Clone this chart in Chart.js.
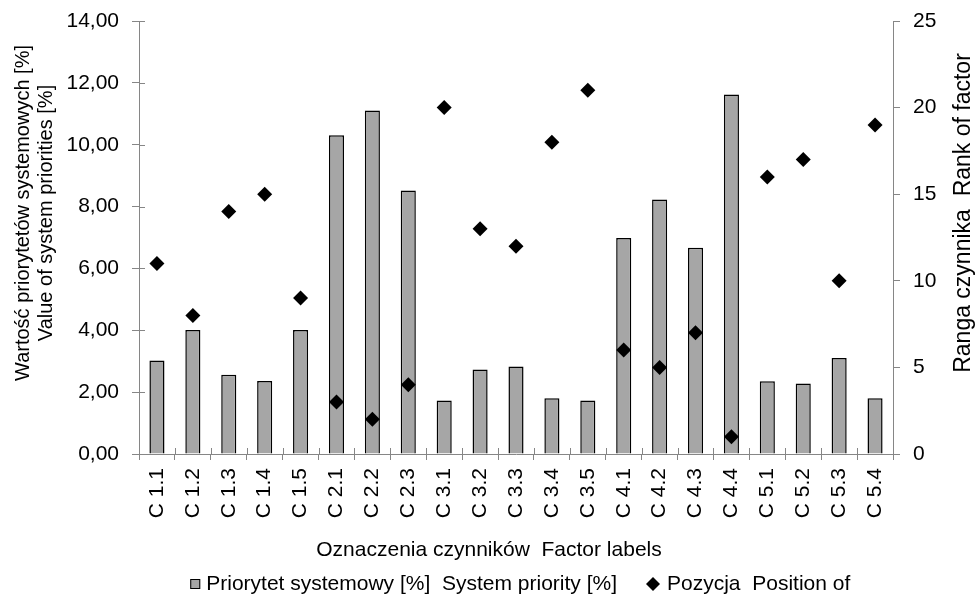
<!DOCTYPE html>
<html>
<head>
<meta charset="utf-8">
<title>Priorytety systemowe czynników</title>
<script src="https://cdn.jsdelivr.net/npm/chart.js@4/dist/chart.umd.min.js"></script>
<style>
  html, body { margin: 0; padding: 0; background: #fff; }
  #wrap { width: 978px; height: 596px; }
</style>
</head>
<body>
<div id="wrap"><canvas id="chart" width="978" height="596"></canvas></div>
<script>
// dane
var factorLabels = ['C 1.1', 'C 1.2', 'C 1.3', 'C 1.4', 'C 1.5', 'C 2.1', 'C 2.2', 'C 2.3',
  'C 3.1', 'C 3.2', 'C 3.3', 'C 3.4', 'C 3.5', 'C 4.1', 'C 4.2', 'C 4.3', 'C 4.4',
  'C 5.1', 'C 5.2', 'C 5.3', 'C 5.4'];
var systemPriority = [3.02, 4.01, 2.56, 2.36, 4.01, 10.31, 11.11, 8.52, 1.73, 2.73, 2.83,
  1.80, 1.73, 6.98, 8.23, 6.67, 11.62, 2.35, 2.28, 3.10, 1.80];
var factorRank = [11, 8, 14, 15, 9, 3, 2, 4, 20, 13, 12, 18, 21, 6, 5, 7, 1, 16, 17, 10, 19];
var leftTicks = ['0,00', '2,00', '4,00', '6,00', '8,00', '10,00', '12,00', '14,00'];
var rightTicks = ['0', '5', '10', '15', '20', '25'];

var FONT = '"Liberation Sans", Arial, sans-serif';
var AXIS = '#868686';

function vText(ctx, txt, x, y) {
  ctx.save();
  ctx.translate(x, y);
  ctx.rotate(-Math.PI / 2);
  ctx.fillText(txt, 0, 0);
  ctx.restore();
}

// kreski podziałki przecinające osie, tytuły osi i legenda
var extras = {
  id: 'extras',
  afterDraw: function (chart) {
    var ctx = chart.ctx;
    var a = chart.chartArea;
    var x = chart.scales.x, y = chart.scales.y;
    ctx.save();
    ctx.strokeStyle = AXIS;
    ctx.lineWidth = 1;
    ctx.beginPath();
    for (var i = 0; i < y.ticks.length; i++) {
      var py = Math.round(y.getPixelForTick(i)) + 0.5;
      ctx.moveTo(a.left, py); ctx.lineTo(a.left + 6, py);
    }
    for (var j = 0; j <= factorLabels.length; j++) {
      var px = Math.round(x.getPixelForValue(j - 0.5)) + 0.5;
      ctx.moveTo(px, a.bottom); ctx.lineTo(px, a.bottom - 6);
    }
    ctx.stroke();

    ctx.fillStyle = '#000';
    ctx.textAlign = 'center';
    ctx.textBaseline = 'middle';
    ctx.font = '20px ' + FONT;
    vText(ctx, 'Wartość priorytetów systemowych [%]', 23, 213);
    vText(ctx, 'Value of system priorities [%]', 46, 213);
    ctx.font = '23px ' + FONT;
    vText(ctx, 'Ranga czynnika  Rank of factor', 964, 213);
    ctx.font = '21px ' + FONT;
    ctx.fillText('Oznaczenia czynników  Factor labels', 489, 550);
    ctx.restore();

    // legenda
    ctx.save();
    var ds = chart.data.datasets;
    var ly = 584;
    ctx.font = '21px ' + FONT;
    ctx.textBaseline = 'middle';
    var w1 = ctx.measureText(ds[1].label).width;
    var t1 = 617 - w1;
    ctx.fillStyle = ds[1].backgroundColor;
    ctx.strokeStyle = '#000';
    ctx.fillRect(t1 - 16, ly - 5, 10, 10);
    ctx.strokeRect(t1 - 15.5, ly - 4.5, 9, 9);
    ctx.fillStyle = '#000';
    ctx.fillText(ds[1].label, t1, ly);
    var dx = 653;
    ctx.beginPath();
    ctx.moveTo(dx, ly - 7); ctx.lineTo(dx + 7, ly); ctx.lineTo(dx, ly + 7); ctx.lineTo(dx - 7, ly);
    ctx.closePath();
    ctx.fill();
    ctx.fillText(ds[0].label, 667, ly);
    ctx.restore();
  }
};

function fixV(w) {
  return function (s) { s.width = w; s.paddingTop = 0; s.paddingBottom = 0; };
}

var ctx = document.getElementById('chart').getContext('2d');
var myChart = new Chart(ctx, {
  data: {
    labels: factorLabels,
    datasets: [
      {
        type: 'scatter',
        label: 'Pozycja  Position of',
        data: factorRank.map(function (r, i) { return { x: factorLabels[i], y: r }; }),
        yAxisID: 'y1',
        pointStyle: 'rectRot',
        pointRadius: 7.5,
        backgroundColor: '#000',
        borderColor: '#000',
        borderWidth: 0,
        order: 1
      },
      {
        type: 'bar',
        label: 'Priorytet systemowy [%]  System priority [%]',
        data: systemPriority,
        yAxisID: 'y',
        backgroundColor: '#a6a6a6',
        borderColor: '#000',
        borderWidth: 1.5,
        categoryPercentage: 1,
        barPercentage: 0.42,
        order: 2
      }
    ]
  },
  plugins: [extras],
  options: {
    responsive: false,
    animation: false,
    layout: { padding: { top: 21, bottom: 0, left: 0, right: 0 } },
    plugins: {
      legend: { display: false },
      tooltip: { enabled: false }
    },
    scales: {
      x: {
        type: 'category',
        offset: true,
        grid: { display: true, offset: true, drawOnChartArea: false, color: AXIS, tickLength: 6 },
        border: { color: AXIS },
        ticks: { color: '#000', font: { family: FONT, size: 21 }, minRotation: 90, maxRotation: 90, padding: 8 },
        afterFit: function (s) { s.height = 142; }
      },
      y: {
        position: 'left',
        min: 0, max: 14,
        ticks: { stepSize: 2, color: '#000', font: { family: FONT, size: 21 }, padding: 13,
          callback: function (v, i) { return leftTicks[i]; } },
        grid: { drawOnChartArea: false, color: AXIS, tickLength: 7 },
        border: { color: AXIS },
        afterFit: fixV(139)
      },
      y1: {
        position: 'right',
        min: 0, max: 25,
        ticks: { stepSize: 5, color: '#000', font: { family: FONT, size: 21 }, padding: 13,
          callback: function (v, i) { return rightTicks[i]; } },
        grid: { drawOnChartArea: false, color: AXIS, tickLength: 7 },
        border: { color: AXIS },
        afterFit: fixV(85)
      }
    }
  }
});
</script>
</body>
</html>
